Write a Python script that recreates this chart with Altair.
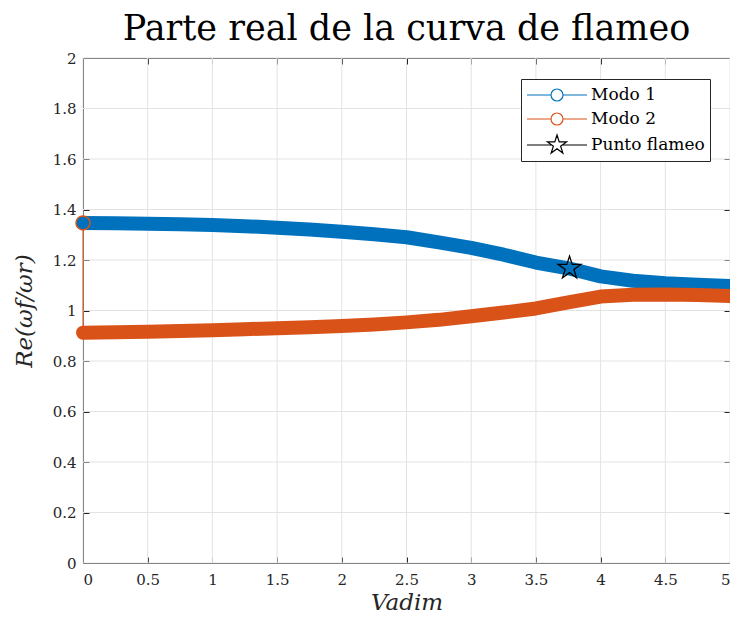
import altair as alt
import pandas as pd

# ---- data ----
V = [0, 0.25, 0.5, 0.75, 1, 1.25, 1.5, 1.75, 2, 2.25, 2.5, 2.75,
     3, 3.25, 3.5, 3.75, 4, 4.25, 4.5, 4.75, 5]
modo1 = [1.347, 1.346, 1.344, 1.342, 1.339, 1.334, 1.328, 1.321, 1.312, 1.302,
         1.290, 1.270, 1.248, 1.221, 1.190, 1.167, 1.135, 1.118, 1.108, 1.102, 1.097]
modo2 = [0.912, 0.914, 0.916, 0.919, 0.922, 0.926, 0.930, 0.934, 0.939, 0.945,
         0.953, 0.963, 0.977, 0.992, 1.008, 1.032, 1.055, 1.062, 1.063, 1.061, 1.057]
flameo_V = [3.76]
flameo_re = [1.168]

x_ticks = [0, 0.5, 1, 1.5, 2, 2.5, 3, 3.5, 4, 4.5, 5]
y_ticks = [0, 0.2, 0.4, 0.6, 0.8, 1, 1.2, 1.4, 1.6, 1.8, 2]

series = ["Modo 1", "Modo 2", "Punto flameo"]
colors = ["#0072BD", "#D95319", "#000000"]

# ---- symbols ----
circ = "M-0.6,0 A0.6,0.6 0 1,0 0.6,0 A0.6,0.6 0 1,0 -0.6,0 Z"
line_circ = "M-3,0 L-0.6,0 M0.6,0 L3,0 " + circ
star = ("M0,-1 L0.223,-0.307 L0.951,-0.309 L0.361,0.117 L0.588,0.809 L0,0.38 "
        "L-0.588,0.809 L-0.361,0.117 L-0.951,-0.309 L-0.223,-0.307 Z")
line_star = "M-3,0 L-0.52,0 M0.52,0 L3,0 " + star

FONT = "DejaVu Serif"
W, H = 647, 505

xs = alt.Scale(domain=[0, 5], nice=False, zero=False)
ys = alt.Scale(domain=[0, 2], nice=False, zero=False)
xaxis = alt.Axis(values=x_ticks, format="~g", title="Vadim", ticks=False,
                 grid=True, gridColor="#262626", gridDash=[6, H - 12, 6, 0],
                 labelPadding=9, titlePadding=4)
yaxis = alt.Axis(values=y_ticks, format="~g", title="Re(ωf/ωr)", ticks=False,
                 grid=True, gridColor="#262626", gridDash=[6, W - 12, 6, 0],
                 labelPadding=7, titlePadding=16)


def X(field):
    return alt.X(field, type="quantitative", scale=xs, axis=xaxis)


def Y(field):
    return alt.Y(field, type="quantitative", scale=ys, axis=yaxis)


df1 = pd.DataFrame({"V": V, "Re": modo1})
df2 = pd.DataFrame({"V": V, "Re": modo2})
dfx = pd.DataFrame({"V": x_ticks})
dfy = pd.DataFrame({"Re": y_ticks})
dfjump = pd.DataFrame({"V": [V[0]], "Re": [modo1[0]], "Re2": [modo2[0]]})
dfring = pd.DataFrame({"V": [V[0]], "Re": [modo1[0]]})
dfstar = pd.DataFrame({"V": flameo_V, "Re": flameo_re})
dfleg = pd.DataFrame({"serie": series, "V": [0, 0, 0], "Re": [0, 0, 0]})

gridx = alt.Chart(dfx).mark_rule(color="#e3e3e3", strokeWidth=1).encode(x=X("V"))
gridy = alt.Chart(dfy).mark_rule(color="#e3e3e3", strokeWidth=1).encode(y=Y("Re"))

jump = alt.Chart(dfjump).mark_rule(color=colors[1], strokeWidth=1).encode(
    x=X("V"), y=Y("Re"), y2="Re2")

l1 = alt.Chart(df1).mark_line(color=colors[0], strokeWidth=14, strokeCap="round",
                              strokeJoin="round").encode(x=X("V"), y=Y("Re"))
l2 = alt.Chart(df2).mark_line(color=colors[1], strokeWidth=14, strokeCap="round",
                              strokeJoin="round").encode(x=X("V"), y=Y("Re"))

ring = alt.Chart(dfring).mark_point(shape="circle", filled=False, color=colors[1],
                                    size=196, strokeWidth=1.5, opacity=1).encode(
    x=X("V"), y=Y("Re"))

st = alt.Chart(dfstar).mark_point(shape=star, filled=False, color="black",
                                  size=576, strokeWidth=1.3, opacity=1).encode(
    x=X("V"), y=Y("Re"))

legend = alt.Legend(title=None, orient="none", legendX=438, legendY=21,
                    fillColor="white", strokeColor="#262626", padding=5,
                    cornerRadius=0, labelFont=FONT, labelFontSize=17,
                    labelColor="black", symbolStrokeWidth=1.2, symbolOffset=20,
                    labelOffset=23, rowPadding=4, symbolOpacity=1,
                    symbolSize=400, symbolFillColor="white")

leg = alt.Chart(dfleg).mark_point(filled=False, opacity=0).encode(
    x=X("V"), y=Y("Re"),
    color=alt.Color("serie:N", scale=alt.Scale(domain=series, range=colors), legend=legend),
    shape=alt.Shape("serie:N", scale=alt.Scale(domain=series, range=[line_circ, line_circ, line_star]),
                    legend=legend),
)

chart = alt.layer(gridx, gridy, jump, l1, l2, ring, st, leg).properties(
    width=W, height=H,
    title=alt.TitleParams("Parte real de la curva de flameo", font=FONT, fontSize=35,
                          fontWeight="normal", color="black", offset=4, anchor="middle"),
    autosize=alt.AutoSizeParams(type="none"),
    padding={"left": 75, "top": 50, "right": 0, "bottom": 53},
    background="white",
).configure_view(stroke="#262626", strokeWidth=1).configure_axis(
    labelFont=FONT, labelFontSize=15, labelColor="#262626",
    titleFont=FONT, titleFontSize=23, titleFontStyle="italic", titleFontWeight="normal",
    titleColor="#262626", domainColor="#262626",
)

chart.save("out.html", embed_options={"renderer": "svg", "actions": False})
